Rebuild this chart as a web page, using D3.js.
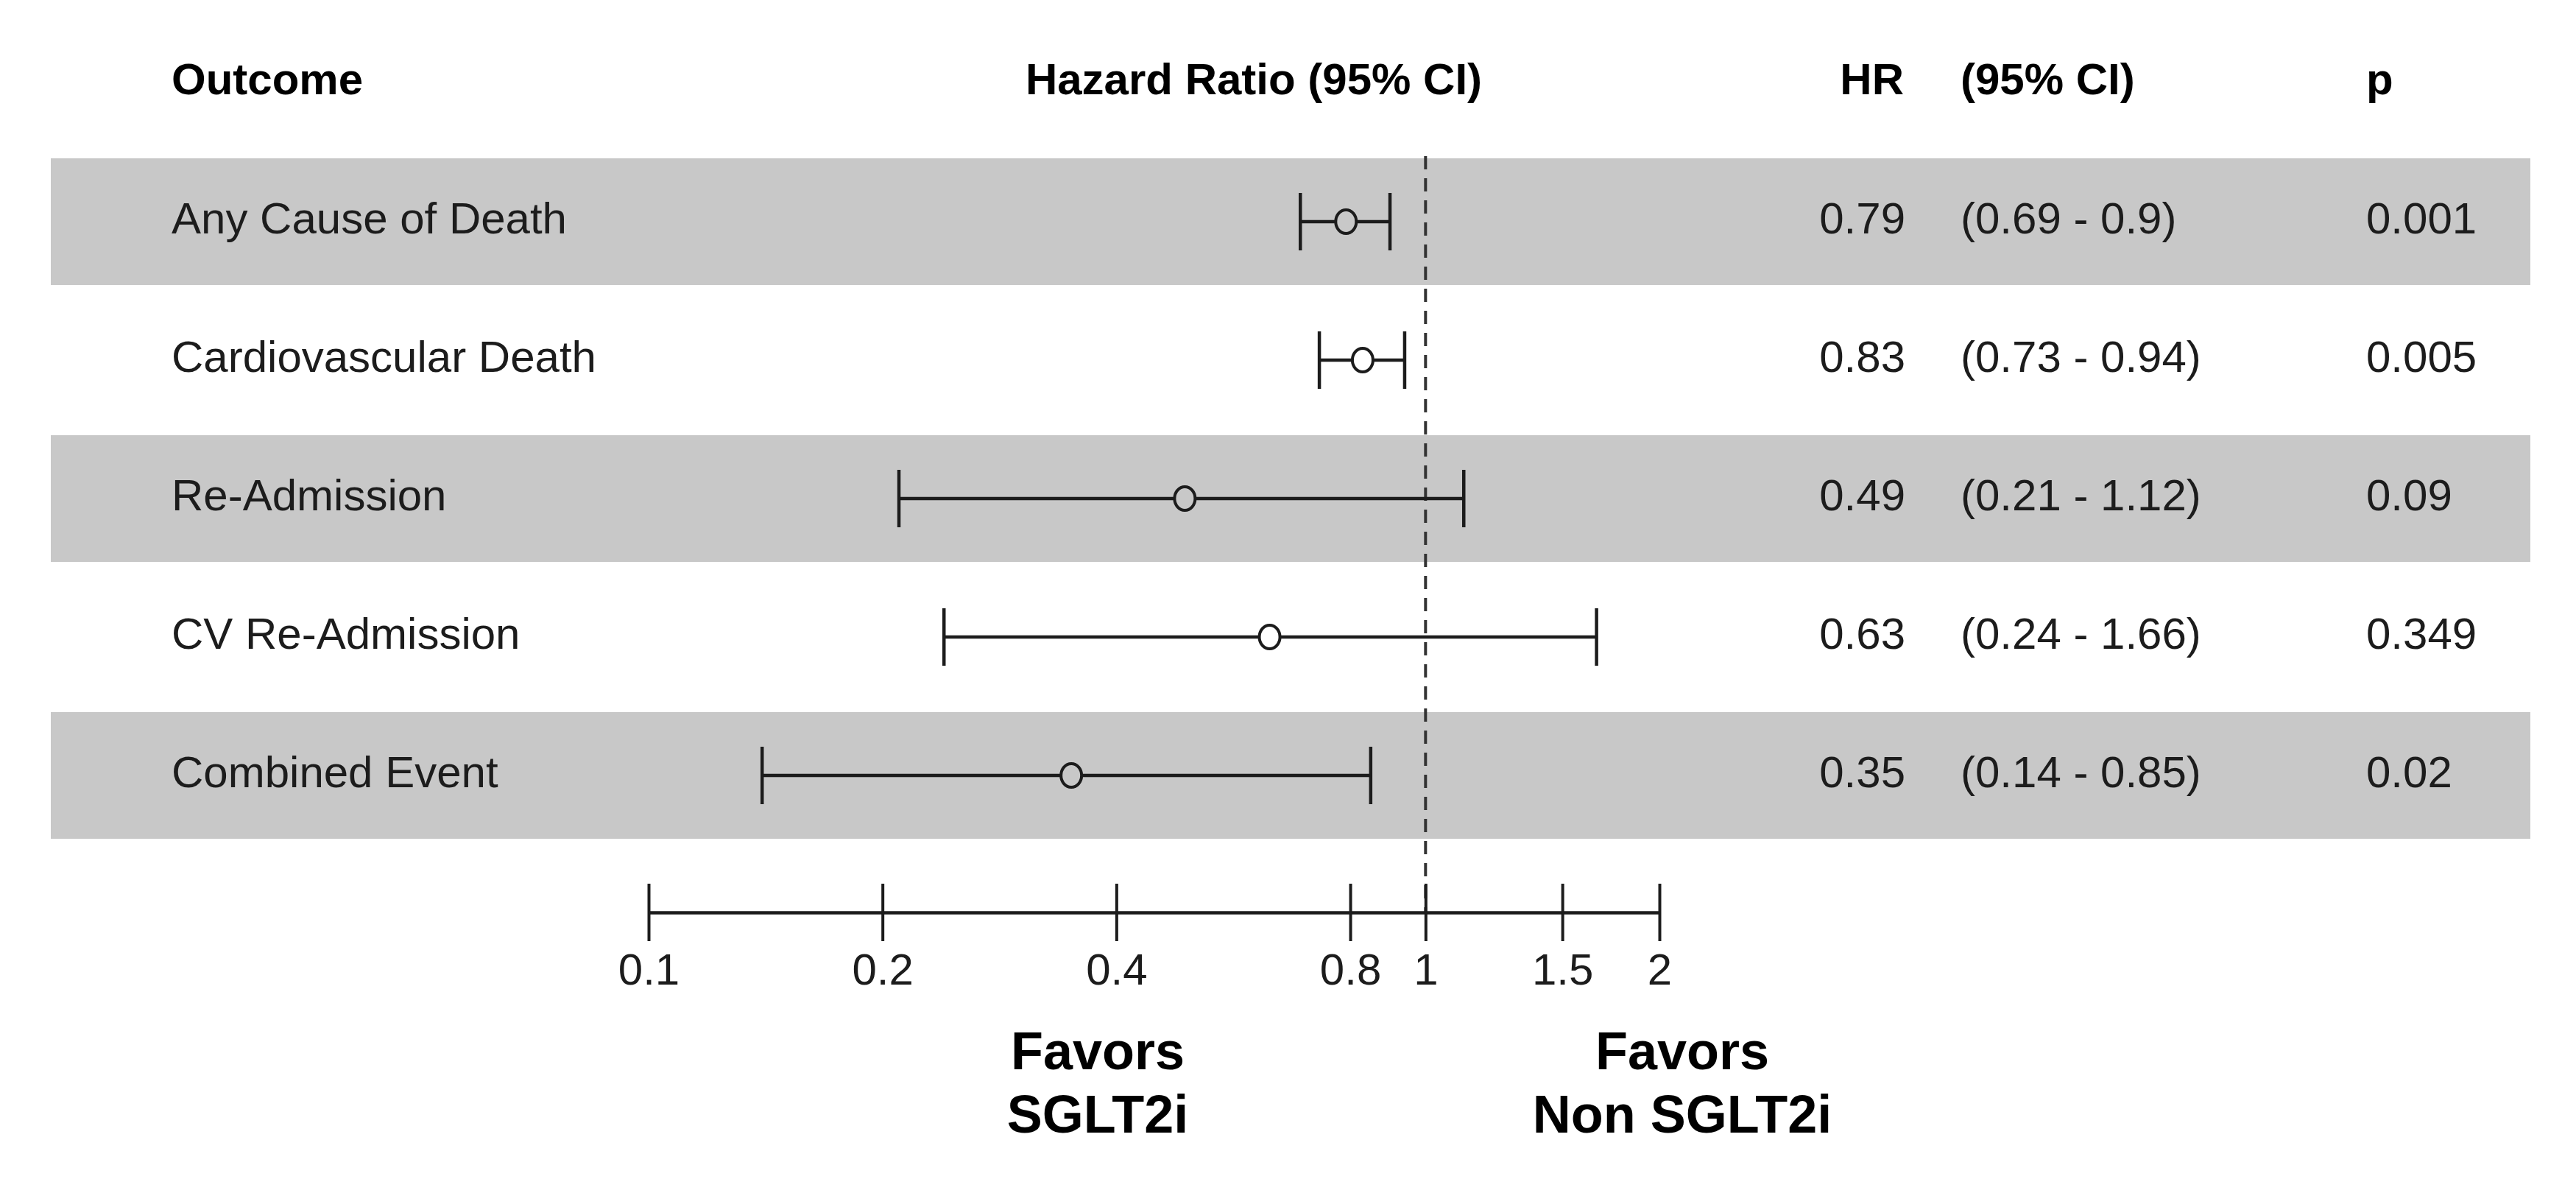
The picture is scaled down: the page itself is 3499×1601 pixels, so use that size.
<!DOCTYPE html>
<html>
    <head>
        <meta charset="utf-8">
        <title>Forest plot</title>
        <style>
            body { margin: 0; background: #fff; }
            text { font-family: "Liberation Sans", Arial, Helvetica, sans-serif; }
        </style>
    </head>
    <body>
        <script src="https://cdn.jsdelivr.net/npm/d3@7"></script>
        <script type="text/javascript">
            // data
            var outcomes = ["Any Cause of Death", "Cardiovascular Death", "Re-Admission", "CV Re-Admission", "Combined Event"];
            var hr = [0.79, 0.83, 0.49, 0.63, 0.35];
            var ciLow = [0.69, 0.73, 0.21, 0.24, 0.14];
            var ciHigh = [0.9, 0.94, 1.12, 1.66, 0.85];
            var pValues = ["0.001", "0.005", "0.09", "0.349", "0.02"];
            var tickValues = [0.1, 0.2, 0.4, 0.8, 1, 1.5, 2];
            var tickLabels = ["0.1", "0.2", "0.4", "0.8", "1", "1.5", "2"];

            var w = 3499,
                h = 1601;

            var rows = outcomes.map(function(d, i) {
                return { name: d, hr: hr[i], lo: ciLow[i], hi: ciHigh[i], p: pValues[i], i: i };
            });

            var svg = d3.select("body").append("svg")
                .attr("width", w)
                .attr("height", h);

            var x = d3.scaleLog()
                .domain([0.1, 2])
                .range([881, 2254]);

            var y = d3.scaleBand()
                .domain(outcomes)
                .range([207, 1147]);

            var bandColor = "#c8c8c8";
            var rowFill = function(d) { return d.i % 2 === 0 ? bandColor : "#fff"; };
            var cy = function(d) { return y(d.name) + y.bandwidth() / 2; };

            // shaded rows
            svg.selectAll("rect.band")
                .data(rows.filter(function(d) { return d.i % 2 === 0; }))
                .enter().append("rect")
                    .attr("class", "band")
                    .attr("x", 69)
                    .attr("width", 3437 - 69)
                    .attr("y", function(d) { return cy(d) - 86; })
                    .attr("height", 172)
                    .attr("fill", bandColor);

            // headers
            var headers = svg.append("g")
                .attr("font-weight", "bold")
                .attr("font-size", 60)
                .attr("fill", "#000");
            headers.append("text").attr("x", 233).attr("y", 128).text("Outcome");
            headers.append("text").attr("x", 1703).attr("y", 128).attr("text-anchor", "middle").text("Hazard Ratio (95% CI)");
            headers.append("text").attr("x", 2586).attr("y", 128).attr("text-anchor", "end").text("HR");
            headers.append("text").attr("x", 2663).attr("y", 128).text("(95% CI)");
            headers.append("text").attr("x", 3214).attr("y", 128).text("p");

            // reference line at HR = 1
            svg.append("line")
                .attr("x1", x(1)).attr("x2", x(1))
                .attr("y1", 212).attr("y2", 1239)
                .attr("stroke", "#333")
                .attr("stroke-width", 4)
                .attr("stroke-dasharray", "18,12");

            // table text
            var row = svg.selectAll("g.row")
                .data(rows)
                .enter().append("g")
                    .attr("class", "row")
                    .attr("font-size", 60)
                    .attr("fill", "#1c1c1c");

            row.append("text")
                .attr("x", 233)
                .attr("y", function(d) { return cy(d) + 16; })
                .text(function(d) { return d.name; });
            row.append("text")
                .attr("x", 2588)
                .attr("y", function(d) { return cy(d) + 16; })
                .attr("text-anchor", "end")
                .text(function(d) { return d.hr; });
            row.append("text")
                .attr("x", 2663)
                .attr("y", function(d) { return cy(d) + 16; })
                .text(function(d) { return "(" + d.lo + " - " + d.hi + ")"; });
            row.append("text")
                .attr("x", 3214)
                .attr("y", function(d) { return cy(d) + 16; })
                .text(function(d) { return d.p; });

            // confidence intervals
            var ci = svg.selectAll("g.ci")
                .data(rows)
                .enter().append("g")
                    .attr("class", "ci")
                    .attr("stroke", "#1c1c1c")
                    .attr("stroke-width", 4.5);

            ci.append("line")
                .attr("x1", function(d) { return x(d.lo); })
                .attr("x2", function(d) { return x(d.hi); })
                .attr("y1", cy).attr("y2", cy);
            ci.append("line")
                .attr("x1", function(d) { return x(d.lo); })
                .attr("x2", function(d) { return x(d.lo); })
                .attr("y1", function(d) { return cy(d) - 39; })
                .attr("y2", function(d) { return cy(d) + 39; });
            ci.append("line")
                .attr("x1", function(d) { return x(d.hi); })
                .attr("x2", function(d) { return x(d.hi); })
                .attr("y1", function(d) { return cy(d) - 39; })
                .attr("y2", function(d) { return cy(d) + 39; });
            ci.append("ellipse")
                .attr("cx", function(d) { return x(d.hr); })
                .attr("cy", cy)
                .attr("rx", 14)
                .attr("ry", 16)
                .attr("fill", rowFill)
                .attr("stroke-width", 4);

            // x axis
            var axis = svg.append("g")
                .attr("transform", "translate(0,1239)")
                .call(d3.axisBottom(x)
                    .tickValues(tickValues)
                    .tickFormat(function(d, i) { return tickLabels[i]; })
                    .tickSizeInner(39)
                    .tickSizeOuter(0)
                    .tickPadding(16));
            axis.select(".domain").attr("stroke", "#1c1c1c").attr("stroke-width", 4.5);
            axis.selectAll(".tick line")
                .attr("y1", -39)
                .attr("stroke", "#1c1c1c")
                .attr("stroke-width", 4);
            axis.selectAll(".tick text")
                .attr("font-size", 60)
                .attr("font-family", "'Liberation Sans', Arial, Helvetica, sans-serif")
                .attr("fill", "#1c1c1c");

            // favours labels
            var fav = svg.append("g")
                .attr("font-weight", "bold")
                .attr("font-size", 72)
                .attr("text-anchor", "middle")
                .attr("fill", "#000");
            fav.append("text").attr("x", 1491).attr("y", 1452).text("Favors");
            fav.append("text").attr("x", 1491).attr("y", 1538).text("SGLT2i");
            fav.append("text").attr("x", 2285).attr("y", 1452).text("Favors");
            fav.append("text").attr("x", 2285).attr("y", 1538).text("Non SGLT2i");
        </script>
    </body>
</html>
